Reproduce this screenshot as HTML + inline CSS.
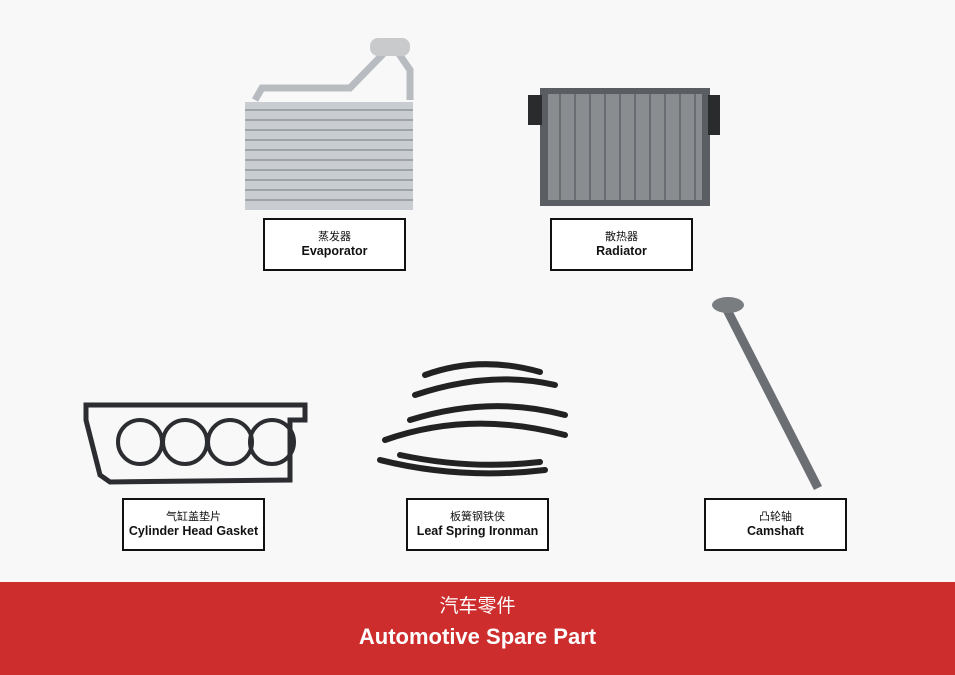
<!DOCTYPE html>
<html><head><meta charset="utf-8"><style>
body{margin:0;width:955px;height:675px;background:#f8f8f8;position:relative;overflow:hidden;font-family:"Liberation Sans","Noto Sans CJK SC",sans-serif}
.box{position:absolute;width:139px;height:49px;border:2px solid #111;background:#fff;text-align:center;box-sizing:content-box}
.box .c{font-size:11px;margin-top:11px;line-height:13px;color:#111}
.box .e{font-size:12.5px;font-weight:bold;line-height:14px;color:#111}
.foot{position:absolute;left:0;top:582px;width:955px;height:93px;background:#cd2d2d;color:#fff;text-align:center}
svg{position:absolute;left:0;top:0}
</style></head><body>
<svg width="955" height="675">
<!-- evaporator -->
<path d="M255 100 L262 88 L350 88 L385 52 L405 50 M410 100 L410 70 L395 48" stroke="#b8bcc0" stroke-width="7" fill="none"/>
<rect x="370" y="38" width="40" height="18" rx="8" fill="#c8cacc"/>
<rect x="245" y="102" width="168" height="108" fill="#c9ccd0"/>
<g stroke="#9ea3a8" stroke-width="2">
<line x1="245" y1="110" x2="413" y2="110"/><line x1="245" y1="120" x2="413" y2="120"/><line x1="245" y1="130" x2="413" y2="130"/><line x1="245" y1="140" x2="413" y2="140"/><line x1="245" y1="150" x2="413" y2="150"/><line x1="245" y1="160" x2="413" y2="160"/><line x1="245" y1="170" x2="413" y2="170"/><line x1="245" y1="180" x2="413" y2="180"/><line x1="245" y1="190" x2="413" y2="190"/><line x1="245" y1="200" x2="413" y2="200"/></g>
<!-- radiator -->
<rect x="540" y="88" width="170" height="118" fill="#5a5d61"/>
<rect x="548" y="94" width="154" height="106" fill="#8a8d90"/>
<g stroke="#5e6165" stroke-width="1.5">
<line x1="560" y1="94" x2="560" y2="200"/><line x1="575" y1="94" x2="575" y2="200"/><line x1="590" y1="94" x2="590" y2="200"/><line x1="605" y1="94" x2="605" y2="200"/><line x1="620" y1="94" x2="620" y2="200"/><line x1="635" y1="94" x2="635" y2="200"/><line x1="650" y1="94" x2="650" y2="200"/><line x1="665" y1="94" x2="665" y2="200"/><line x1="680" y1="94" x2="680" y2="200"/><line x1="695" y1="94" x2="695" y2="200"/></g>
<rect x="528" y="95" width="14" height="30" fill="#2a2b2d"/><rect x="708" y="95" width="12" height="40" fill="#2a2b2d"/>
<!-- gasket -->
<path d="M86 405 L305 405 L305 420 L290 420 L290 480 L110 482 L100 475 L86 420 Z" fill="none" stroke="#2b2d30" stroke-width="5"/>
<g fill="none" stroke="#2b2d30" stroke-width="4"><circle cx="140" cy="442" r="22"/><circle cx="185" cy="442" r="22"/><circle cx="230" cy="442" r="22"/><circle cx="272" cy="442" r="22"/></g>
<!-- leaf springs -->
<g fill="none" stroke="#222" stroke-width="6" stroke-linecap="round">
<path d="M425 375 Q480 355 540 372"/><path d="M415 395 Q490 370 555 385"/>
<path d="M410 420 Q490 395 565 415"/><path d="M385 440 Q470 410 565 435"/>
<path d="M380 460 Q460 480 545 470"/><path d="M400 455 Q470 470 540 462"/></g>
<!-- camshaft -->
<line x1="722" y1="300" x2="818" y2="488" stroke="#6b6e72" stroke-width="9"/>
<ellipse cx="728" cy="305" rx="16" ry="8" fill="#7a7d80"/>
</svg>
<div class="box" style="left:263px;top:218px"><div class="c">蒸发器</div><div class="e">Evaporator</div></div>
<div class="box" style="left:550px;top:218px"><div class="c">散热器</div><div class="e">Radiator</div></div>
<div class="box" style="left:122px;top:498px"><div class="c">气缸盖垫片</div><div class="e">Cylinder Head Gasket</div></div>
<div class="box" style="left:406px;top:498px"><div class="c">板簧钢铁侠</div><div class="e">Leaf Spring Ironman</div></div>
<div class="box" style="left:704px;top:498px"><div class="c">凸轮轴</div><div class="e">Camshaft</div></div>
<div class="foot"><div style="font-size:19px;margin-top:13px;line-height:24px">汽车零件</div><div style="font-size:22px;font-weight:bold;margin-top:5px">Automotive Spare Part</div></div>
</body></html>
